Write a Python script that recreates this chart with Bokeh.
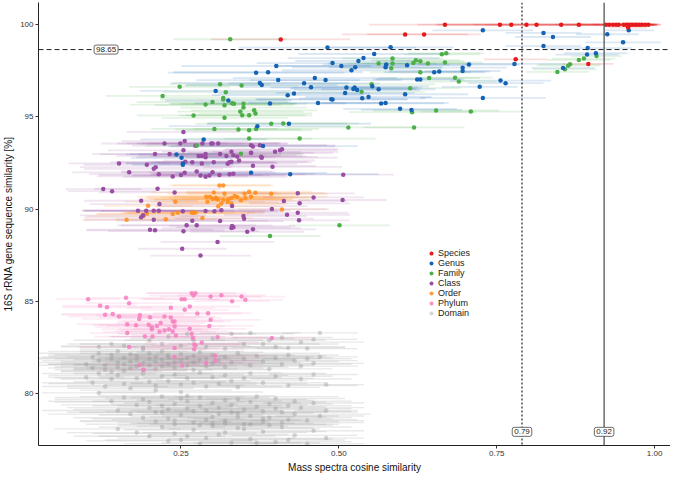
from bokeh.plotting import figure
from bokeh.models import (ColumnDataSource, Span, Label, Legend, LegendItem,
                          Range1d, FixedTicker, NumeralTickFormatter)
from bokeh.embed import file_html
from bokeh.resources import INLINE

# ---------------- data ----------------
species_x = [0.668,0.755,0.773,0.797,0.813,0.852,0.880,0.923,0.928,0.934,
             0.939,0.943,0.951,0.955,0.958,0.962,0.965,0.969,0.972,0.976,
             0.980,0.985,0.990,0.958,0.605,0.635,0.408,0.780,0.895]
species_y = [100,100,100,100,100,100,100,100,100,100,
             100,100,100,100,100,100,100,100,100,100,
             100,100,100,99.84,99.47,99.47,99.2,98.12,97.87]
species_e = [0.12,0.13,0.12,0.14,0.10,0.12,0.09,0.08,0.07,0.06,
             0.06,0.05,0.05,0.05,0.04,0.04,0.04,0.03,0.03,0.03,
             0.03,0.02,0.02,0.03,0.10,0.09,0.11,0.05,0.04]

genus_x = [0.728,0.824,0.839,0.925,0.959,0.950,0.824,0.894,0.893,0.907,
           0.706,0.696,0.696,0.778,0.855,0.756,0.764,0.723,0.728,0.582,
           0.556,0.539,0.531,0.490,0.504,0.526,0.520,0.575,0.574,0.608,
           0.651,0.659,0.624,0.629,0.512,0.523,0.525,0.529,0.510,0.553,
           0.563,0.605,0.490,0.537,0.547,0.567,0.574,0.597,0.615,0.482,
           0.401,0.369,0.388,0.462,0.479,0.404,0.375,0.378,0.445,0.456,
           0.305,0.419,0.429,0.488,0.467,0.391,0.325,0.371,0.421,0.286,
           0.380,0.243,0.253,0.251,0.253,0.361,0.423]
genus_y = [99.69,99.55,99.33,99.48,99.69,99.04,98.84,98.73,98.38,98.45,
           97.84,97.67,97.49,97.87,97.65,96.97,96.83,96.63,96.03,98.77,
           98.41,98.19,98.03,97.92,97.76,97.69,97.53,97.84,97.69,97.80,
           97.42,97.46,97.03,97.03,96.59,96.52,96.59,96.46,96.30,96.66,
           96.50,96.23,95.94,96.01,96.08,95.73,95.76,95.44,95.38,98.76,
           97.76,97.40,97.42,97.11,97.00,97.00,96.84,96.73,96.82,96.61,
           96.41,96.18,96.27,95.96,95.76,95.73,95.89,94.50,94.63,93.78,
           93.42,92.97,92.48,92.79,92.41,91.97,91.90]
genus_e = [0.08,0.06,0.06,0.05,0.04,0.06,0.06,0.07,0.05,0.05,
           0.08,0.07,0.06,0.08,0.05,0.08,0.06,0.06,0.10,0.10,
           0.12,0.12,0.10,0.12,0.10,0.10,0.11,0.10,0.09,0.10,
           0.08,0.08,0.07,0.07,0.12,0.10,0.10,0.10,0.11,0.09,
           0.09,0.10,0.12,0.10,0.10,0.10,0.10,0.09,0.08,0.14,
           0.15,0.14,0.15,0.13,0.12,0.13,0.14,0.12,0.12,0.11,
           0.12,0.12,0.12,0.12,0.11,0.12,0.10,0.14,0.13,0.10,
           0.15,0.08,0.09,0.08,0.08,0.12,0.14]

family_x = [0.328,0.248,0.221,0.312,0.346,0.321,0.317,0.317,0.289,0.300,
            0.319,0.331,0.334,0.349,0.349,0.344,0.366,0.368,0.347,0.358,
            0.270,0.319,0.393,0.412,0.303,0.341,0.358,0.369,0.438,0.358,
            0.345,0.663,0.670,0.563,0.585,0.585,0.583,0.618,0.622,0.629,
            0.641,0.668,0.629,0.643,0.684,0.690,0.552,0.536,0.613,0.654,
            0.709,0.616,0.515,0.619,0.846,0.858,0.863,0.866,0.880,0.888,
            0.908,0.275,0.501,0.391]
family_y = [99.21,96.63,96.14,96.77,96.70,96.34,96.03,95.94,95.67,95.81,
            95.64,95.74,95.71,95.71,95.51,95.29,95.36,95.19,95.09,95.09,
            95.08,94.95,94.63,94.65,94.35,94.32,94.28,94.35,93.83,93.83,
            93.00,98.39,98.45,97.89,98.16,97.89,97.64,97.92,98.07,98.02,
            97.89,97.95,97.42,97.11,97.13,96.92,96.77,96.36,96.56,95.35,
            95.29,95.26,94.43,94.43,97.44,97.58,97.78,97.85,98.09,98.16,
            98.30,93.45,89.13,88.55]
family_e = [0.09,0.08,0.09,0.08,0.09,0.10,0.10,0.10,0.12,0.12,
            0.11,0.10,0.10,0.10,0.10,0.10,0.10,0.09,0.10,0.10,
            0.09,0.10,0.12,0.12,0.10,0.10,0.10,0.10,0.12,0.10,
            0.10,0.06,0.06,0.08,0.08,0.07,0.08,0.08,0.07,0.07,
            0.07,0.06,0.08,0.08,0.06,0.06,0.10,0.10,0.08,0.10,
            0.08,0.10,0.10,0.08,0.05,0.05,0.05,0.05,0.05,0.05,
            0.04,0.08,0.08,0.08]

class_x = [0.256,0.300,0.309,0.364,0.375,0.209,0.232,0.254,0.278,0.283,
           0.289,0.289,0.312,0.322,0.333,0.339,0.361,0.378,0.399,0.407,
           0.152,0.196,0.210,0.207,0.268,0.283,0.302,0.324,0.327,0.342,
           0.364,0.168,0.215,0.237,0.250,0.256,0.275,0.281,0.289,0.295,
           0.300,0.311,0.327,0.333,0.507,0.127,0.141,0.213,0.240,0.435,
           0.187,0.216,0.413,0.438,0.460,0.506,0.182,0.195,0.207,0.215,
           0.253,0.289,0.303,0.314,0.331,0.349,0.350,0.394,0.418,0.435,
           0.437,0.190,0.187,0.207,0.268,0.312,0.259,0.275,0.331,0.333,
           0.330,0.364,0.355,0.201,0.209,0.254,0.308,0.252,0.281,0.254,
           0.249,0.284,0.298,0.273,0.361,0.330,0.361,0.377,0.330,0.257,
           0.224,0.410,0.395]
class_y = [93.69,93.56,93.56,93.40,93.46,92.99,92.99,93.19,92.89,92.89,
           92.99,92.81,92.99,92.88,92.93,92.86,93.04,92.79,93.11,93.20,
           92.48,92.41,92.28,92.19,92.54,92.48,92.54,92.46,92.54,92.64,
           92.35,92.00,91.90,91.78,91.85,91.98,92.05,91.83,91.76,91.83,
           92.00,91.85,91.89,91.92,91.87,91.09,90.98,91.11,90.91,90.86,
           90.46,90.28,90.44,90.32,90.64,90.50,89.92,89.92,89.92,89.92,
           89.89,89.90,89.89,89.94,90.17,89.63,89.49,90.01,89.70,89.81,
           89.40,89.67,89.56,89.43,89.38,89.36,89.13,89.13,89.09,89.02,
           88.98,88.91,88.78,88.89,88.86,88.81,88.23,87.86,87.49,94.19,
           93.56,93.56,93.56,93.44,93.47,93.11,93.06,92.84,92.57,92.57,
           93.56,93.25,92.30]
class_e = [0.10,0.12,0.11,0.13,0.12,0.10,0.11,0.12,0.13,0.10,
           0.12,0.11,0.13,0.12,0.10,0.11,0.13,0.12,0.10,0.09,
           0.08,0.10,0.12,0.11,0.13,0.12,0.10,0.11,0.13,0.12,
           0.10,0.09,0.11,0.12,0.13,0.10,0.12,0.11,0.13,0.12,
           0.10,0.11,0.12,0.13,0.08,0.06,0.07,0.10,0.12,0.09,
           0.09,0.11,0.10,0.08,0.08,0.07,0.09,0.10,0.11,0.12,
           0.13,0.12,0.10,0.11,0.12,0.10,0.11,0.09,0.10,0.08,
           0.08,0.10,0.09,0.11,0.12,0.10,0.11,0.12,0.10,0.09,
           0.11,0.10,0.09,0.10,0.11,0.12,0.09,0.07,0.08,0.09,
           0.10,0.12,0.11,0.10,0.12,0.11,0.10,0.09,0.12,0.11,
           0.10,0.09,0.11]

order_x = [0.311,0.317,0.302,0.319,0.290,0.296,0.306,0.309,0.317,0.325,
           0.330,0.339,0.345,0.352,0.351,0.358,0.361,0.368,0.393,0.314,
           0.324,0.330,0.241,0.198,0.309,0.245,0.267,0.270,0.237,0.226,
           0.164,0.191,0.284,0.410,0.300,0.305,0.292,0.335,0.196,0.273]
order_y = [91.29,91.29,90.91,90.84,90.68,90.68,90.55,90.53,90.51,90.53,
           90.61,90.66,90.48,90.59,90.84,90.95,90.68,90.89,90.84,90.31,
           90.39,90.31,90.41,90.19,90.16,89.81,89.81,89.81,89.74,89.46,
           89.43,89.63,89.52,89.99,90.55,90.62,90.40,90.72,89.75,89.82]
order_e = [0.08,0.08,0.10,0.09,0.11,0.10,0.12,0.10,0.11,0.09,
           0.10,0.12,0.11,0.10,0.09,0.10,0.12,0.11,0.09,0.10,
           0.08,0.09,0.08,0.07,0.10,0.09,0.10,0.11,0.12,0.08,
           0.07,0.09,0.08,0.07,0.10,0.11,0.09,0.10,0.08,0.11]

phylum_x = [0.103,0.163,0.168,0.122,0.133,0.142,0.130,0.152,0.185,0.201,
            0.184,0.224,0.234,0.234,0.256,0.264,0.276,0.237,0.240,0.267,
            0.273,0.270,0.251,0.256,0.297,0.314,0.331,0.346,0.352,0.165,
            0.179,0.199,0.204,0.212,0.218,0.204,0.216,0.224,0.231,0.237,
            0.240,0.242,0.165,0.193,0.205,0.264,0.267,0.269,0.271,0.273,
            0.271,0.295,0.308,0.283,0.240,0.394,0.304,0.304,0.290,0.252,
            0.184,0.191,0.168,0.240,0.297,0.293]
phylum_y = [85.13,85.20,84.91,84.77,84.69,84.33,84.28,84.19,84.26,84.15,
            84.06,84.19,84.66,84.13,84.55,84.73,84.35,83.92,83.92,85.45,
            85.45,85.32,85.13,85.13,85.27,85.34,85.02,85.27,85.09,83.77,
            83.72,83.74,83.61,83.68,83.83,83.50,83.36,83.43,83.50,83.38,
            83.65,83.16,83.29,83.10,83.10,83.52,83.25,83.02,82.67,82.62,
            82.42,83.68,83.07,82.78,82.48,83.03,82.06,81.81,81.67,81.54,
            81.56,81.31,82.54,81.99,84.01,84.37]
phylum_e = [0.05,0.06,0.07,0.06,0.07,0.08,0.07,0.08,0.07,0.08,
            0.09,0.08,0.07,0.08,0.07,0.08,0.07,0.08,0.09,0.07,
            0.08,0.07,0.06,0.07,0.08,0.07,0.06,0.07,0.06,0.08,
            0.07,0.08,0.09,0.08,0.07,0.08,0.09,0.07,0.08,0.09,
            0.08,0.07,0.06,0.08,0.07,0.09,0.08,0.07,0.08,0.07,
            0.08,0.07,0.08,0.09,0.07,0.06,0.08,0.07,0.08,0.07,
            0.06,0.07,0.08,0.07,0.08,0.07]

# Domain cloud, in bands from top to bottom
domain_x_a = [0.16,0.20,0.23,0.27,0.30,0.33,0.36,0.38,0.40,0.42,
              0.44,0.46,0.35,0.47,0.25,0.22,0.19,0.29,0.39,0.41,
              0.14,0.45,0.12,0.26,0.32]
domain_y_a = [82.6,82.9,83.1,82.9,83.0,83.25,83.3,82.7,82.55,82.5,
              82.8,82.95,82.7,83.3,82.6,82.7,82.5,82.55,82.9,83.05,
              82.7,82.45,82.55,83.25,82.45]
domain_e_a = [0.10,0.12,0.09,0.11,0.13,0.10,0.08,0.12,0.11,0.09,
              0.10,0.07,0.12,0.06,0.11,0.13,0.10,0.12,0.09,0.08,
              0.07,0.08,0.06,0.11,0.10]
domain_x_b = [0.10,0.11,0.11,0.12,0.12,0.13,0.13,0.14,0.14,0.15,
              0.15,0.15,0.16,0.16,0.16,0.17,0.17,0.17,0.18,0.18,
              0.18,0.19,0.19,0.19,0.20,0.20,0.20,0.21,0.21,0.21,
              0.22,0.22,0.22,0.23,0.23,0.23,0.24,0.24,0.25,0.25,
              0.26,0.26,0.27,0.27,0.27,0.28,0.28,0.29,0.29,0.30,
              0.30,0.31,0.32,0.32,0.33,0.34,0.35,0.36,0.37,0.38,
              0.39,0.40,0.41,0.42,0.43,0.44,0.45,0.46,0.47,0.14]
domain_y_b = [81.6,82.0,81.4,81.8,82.2,81.3,81.55,81.9,82.1,81.45,
              81.7,82.3,81.25,81.6,81.95,81.4,81.75,82.15,81.5,81.85,
              82.05,81.3,81.65,82.4,81.55,81.9,82.2,81.35,81.75,82.0,
              81.5,81.85,82.3,81.6,81.95,82.1,81.4,81.7,81.8,82.15,
              81.55,81.95,81.3,81.7,82.05,81.85,82.25,81.5,81.9,81.65,
              82.1,81.8,81.45,82.0,81.7,82.2,81.9,81.55,82.05,81.75,
              81.35,81.95,81.6,82.1,81.8,81.5,81.9,81.65,82.0,81.2]
domain_e_b = [0.06,0.08,0.07,0.09,0.10,0.08,0.11,0.12,0.09,0.10,
              0.13,0.11,0.10,0.12,0.14,0.09,0.11,0.13,0.12,0.10,
              0.14,0.11,0.13,0.10,0.12,0.15,0.11,0.13,0.10,0.14,
              0.12,0.11,0.13,0.15,0.10,0.12,0.14,0.11,0.13,0.12,
              0.10,0.14,0.12,0.11,0.13,0.15,0.10,0.12,0.14,0.11,
              0.13,0.12,0.10,0.14,0.11,0.13,0.12,0.10,0.11,0.12,
              0.10,0.09,0.11,0.08,0.10,0.09,0.07,0.08,0.06,0.08]
domain_x_c = [0.10,0.11,0.12,0.13,0.14,0.15,0.16,0.17,0.18,0.19,
              0.20,0.21,0.22,0.23,0.24,0.25,0.26,0.27,0.28,0.29,
              0.30,0.31,0.32,0.33,0.34,0.35,0.36,0.38,0.40,0.42,
              0.44,0.46,0.48,0.21,0.25,0.12]
domain_y_c = [80.9,80.6,81.1,80.4,80.8,81.0,80.55,80.3,80.85,81.1,
              80.65,80.45,80.95,80.7,81.05,80.5,80.85,80.6,81.15,80.4,
              80.9,80.55,81.0,80.7,80.35,80.85,81.1,80.6,80.95,80.45,
              80.8,81.05,80.5,80.2,80.1,80.05]
domain_e_c = [0.06,0.08,0.09,0.10,0.08,0.11,0.12,0.10,0.13,0.11,
              0.12,0.14,0.10,0.13,0.11,0.12,0.14,0.10,0.13,0.12,
              0.11,0.14,0.10,0.12,0.13,0.11,0.12,0.10,0.09,0.11,
              0.08,0.07,0.06,0.12,0.13,0.09]
domain_x_d = [0.14,0.15,0.16,0.17,0.18,0.19,0.19,0.20,0.20,0.21,
              0.21,0.22,0.22,0.23,0.23,0.24,0.24,0.25,0.25,0.26,
              0.26,0.27,0.27,0.28,0.28,0.29,0.29,0.30,0.30,0.31,
              0.31,0.32,0.32,0.33,0.33,0.34,0.34,0.35,0.35,0.36,
              0.36,0.37,0.37,0.38,0.38,0.39,0.39,0.40,0.40,0.41,
              0.41,0.42,0.42,0.43,0.43,0.44,0.45,0.46,0.47,0.48,
              0.28,0.32,0.36,0.24,0.30,0.34,0.38,0.26,0.22]
domain_y_d = [79.6,79.1,79.8,78.9,79.4,79.7,78.7,79.25,79.55,78.5,
              79.0,79.35,79.85,78.65,79.15,79.45,78.35,79.75,78.85,79.2,
              79.6,78.45,79.05,79.35,79.8,78.6,79.1,79.5,78.4,78.9,
              79.25,79.65,78.55,79.0,79.4,78.75,79.7,79.15,78.35,79.55,
              78.8,79.3,79.85,78.5,79.05,79.45,78.7,79.2,79.75,78.45,
              79.0,79.35,78.6,79.6,78.9,79.25,78.55,79.5,78.8,79.1,
              78.3,78.4,78.35,78.55,78.75,78.95,78.65,79.9,79.0]
domain_e_d = [0.10,0.12,0.11,0.13,0.12,0.14,0.11,0.13,0.15,0.12,
              0.14,0.11,0.13,0.12,0.15,0.10,0.14,0.12,0.13,0.11,
              0.15,0.12,0.14,0.13,0.11,0.15,0.12,0.14,0.13,0.12,
              0.11,0.14,0.13,0.15,0.12,0.14,0.11,0.13,0.15,0.12,
              0.14,0.11,0.13,0.12,0.14,0.10,0.13,0.12,0.11,0.13,
              0.12,0.10,0.11,0.09,0.12,0.10,0.09,0.08,0.07,0.05,
              0.13,0.14,0.12,0.15,0.13,0.12,0.11,0.14,0.13]
domain_x_e = [0.15,0.18,0.20,0.22,0.24,0.25,0.27,0.29,0.30,0.32,
              0.33,0.35,0.36,0.38,0.40,0.41,0.43,0.45,0.46,0.48,
              0.28,0.23,0.31,0.37,0.34,0.26,0.42,0.39]
domain_y_e = [78.1,77.9,77.7,78.2,77.85,77.5,78.05,77.6,78.25,77.9,
              77.35,78.1,77.55,77.95,77.4,78.2,77.75,77.3,78.0,77.6,
              77.3,77.45,77.8,77.35,78.15,77.7,77.5,78.3]
domain_e_e = [0.10,0.11,0.12,0.10,0.13,0.12,0.11,0.14,0.12,0.13,
              0.11,0.12,0.13,0.10,0.12,0.11,0.10,0.09,0.08,0.06,
              0.12,0.13,0.11,0.10,0.12,0.14,0.09,0.10]

domain_x = domain_x_a + domain_x_b + domain_x_c + domain_x_d + domain_x_e
domain_y = domain_y_a + domain_y_b + domain_y_c + domain_y_d + domain_y_e
domain_e = domain_e_a + domain_e_b + domain_e_c + domain_e_d + domain_e_e

ranks = ["Species", "Genus", "Family", "Class", "Order", "Phylum", "Domain"]
colors = ["#E41A1C", "#1463B4", "#4DAF4A", "#984EA3", "#FF8C1A", "#F47FBF", "#999999"]

threshold_y = 98.65
threshold_x_dotted = 0.79
threshold_x_solid = 0.92

x_ticks = [0.25, 0.50, 0.75, 1.00]
y_ticks = [80, 85, 90, 95, 100]

series = {
    "Species": (species_x, species_y, species_e),
    "Genus": (genus_x, genus_y, genus_e),
    "Family": (family_x, family_y, family_e),
    "Class": (class_x, class_y, class_e),
    "Order": (order_x, order_y, order_e),
    "Phylum": (phylum_x, phylum_y, phylum_e),
    "Domain": (domain_x, domain_y, domain_e),
}
for k, (a, b, c) in series.items():
    assert len(a) == len(b) == len(c), (k, len(a), len(b), len(c))

# ---------------- figure ----------------
FONT = "Liberation Sans"
p = figure(width=670, height=475, output_backend="svg", toolbar_location=None,
           x_range=Range1d(0.0245, 1.0251), y_range=Range1d(77.2, 101.2),
           min_border_left=34, min_border_right=0, min_border_top=2,
           min_border_bottom=28)
p.outline_line_color = None
p.xgrid.visible = False
p.ygrid.visible = False
p.background_fill_color = "white"

for ax in (p.xaxis[0], p.yaxis[0]):
    ax.axis_line_color = "#222222"
    ax.axis_line_width = 1
    ax.major_tick_line_color = "#333333"
    ax.major_tick_out = 3
    ax.major_tick_in = 0
    ax.minor_tick_line_color = None
    ax.major_label_text_font = FONT
    ax.major_label_text_font_size = "8px"
    ax.major_label_text_color = "#333333"
    ax.major_label_standoff = 2
    ax.axis_label_text_font = FONT
    ax.axis_label_text_font_size = "10px"
    ax.axis_label_text_font_style = "normal"
    ax.axis_label_text_color = "#111111"
    ax.axis_label_standoff = 3

p.xaxis.ticker = FixedTicker(ticks=x_ticks)
p.xaxis.formatter = NumeralTickFormatter(format="0.00")
p.yaxis.ticker = FixedTicker(ticks=y_ticks)
p.xaxis.axis_label = "Mass spectra cosine similarity"
p.yaxis.axis_label = "16S rRNA gene sequence similarity [%]"

draw_order = ["Domain", "Phylum", "Order", "Class", "Family", "Genus", "Species"]
sources = {}
for name in draw_order:
    xs, ys, es = series[name]
    sources[name] = ColumnDataSource(dict(
        x=xs, y=ys,
        lo=[a - e for a, e in zip(xs, es)],
        hi=[a + e for a, e in zip(xs, es)]))

# error bars
for name in draw_order:
    c = colors[ranks.index(name)]
    if name == "Domain":
        p.segment(x0="lo", x1="hi", y0="y", y1="y", source=sources[name],
                  line_color=c, line_alpha=0.22, line_width=1.4)
    else:
        p.segment(x0="lo", x1="hi", y0="y", y1="y", source=sources[name],
                  line_color=c, line_alpha=0.15, line_width=1.8)

# points
point_r = {}
for name in draw_order:
    c = colors[ranks.index(name)]
    alpha = {"Domain": 0.4, "Phylum": 0.85, "Order": 0.85}.get(name, 1.0)
    point_r[name] = p.scatter("x", "y", source=sources[name], size=4.5,
                              fill_color=c, line_color=None, fill_alpha=alpha)

# thresholds
p.add_layout(Span(location=threshold_y, dimension="width", line_color="#222222",
                  line_dash="5 3", line_width=1))
p.add_layout(Span(location=threshold_x_dotted, dimension="height", line_color="#222222",
                  line_dash="2 2", line_width=1.2))
p.add_layout(Span(location=threshold_x_solid, dimension="height", line_color="#555555",
                  line_width=1.3))

def box_label(x, y, txt):
    return Label(x=x, y=y, text=txt, text_font=FONT, text_font_size="8px",
                 text_align="center", text_baseline="middle", text_color="#222222",
                 background_fill_color="white", border_line_color="#444444",
                 border_line_width=0.8, padding=2, border_radius=2)

p.add_layout(box_label(0.1315, threshold_y, f"{threshold_y:.2f}"))
p.add_layout(box_label(threshold_x_dotted, 77.94, f"{threshold_x_dotted:.2f}"))
p.add_layout(box_label(threshold_x_solid, 77.94, f"{threshold_x_solid:.2f}"))

legend = Legend(items=[LegendItem(label=n, renderers=[point_r[n]]) for n in ranks],
                location=(388, 127), orientation="vertical",
                label_text_font=FONT, label_text_font_size="9px",
                label_text_color="#222222", label_height=10, glyph_height=10,
                glyph_width=10, label_standoff=2, spacing=0, padding=2, margin=0,
                border_line_color=None, background_fill_alpha=0)
p.add_layout(legend)

open("out.html", "w").write(file_html(p, INLINE))
